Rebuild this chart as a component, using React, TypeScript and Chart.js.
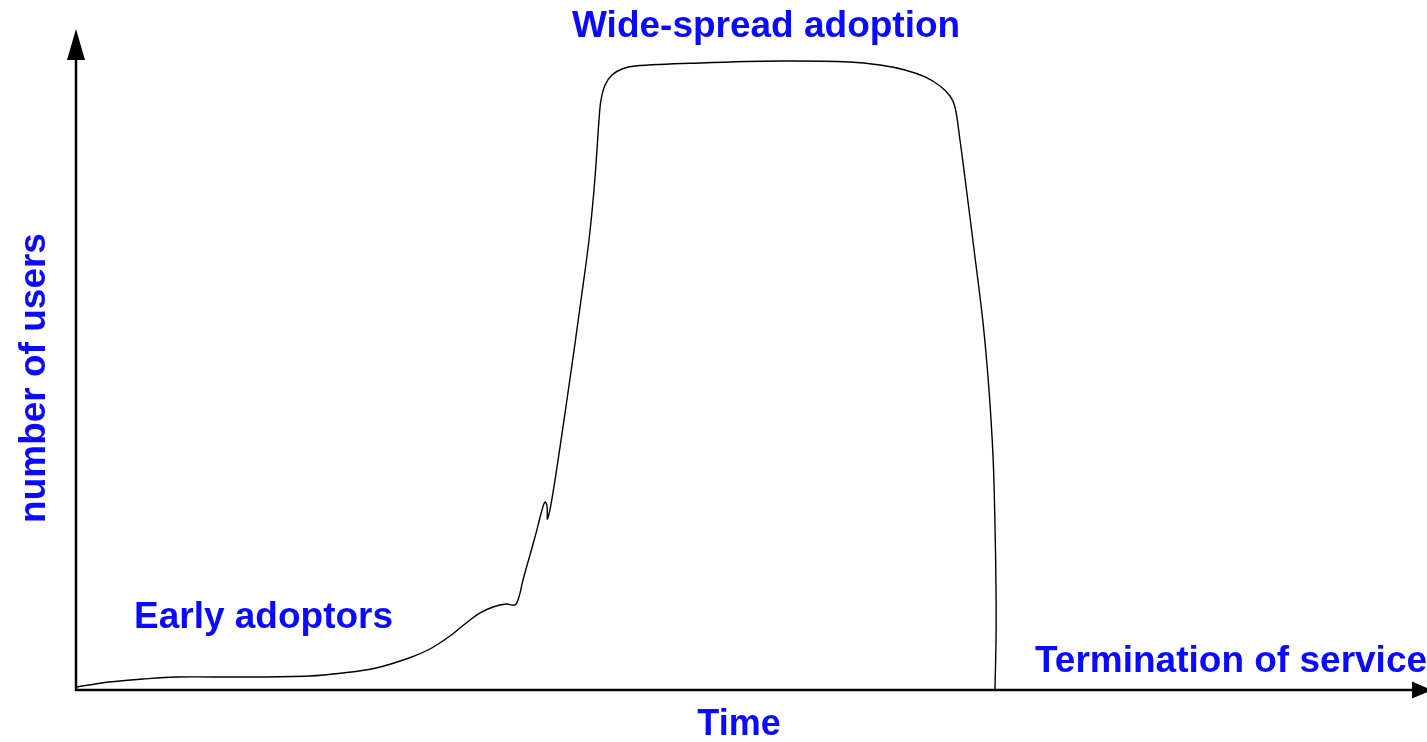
import React, { useEffect, useRef } from "react";
import { Chart, registerables } from "chart.js";

Chart.register(...registerables);

// time (0..100) and number of users (0..100)
const timeValues = [
  0, 2.44, 4.96, 7.41, 12.37, 17.26, 19.78, 22.22, 24.67, 26.22, 27.7, 28.81,
  29.93, 30.89, 31.85, 32.52, 32.81, 33.11, 34.0, 34.52, 34.74, 34.89, 34.93,
  35.33, 36.44, 37.48, 38.0, 38.37, 38.59, 38.74, 38.89, 39.19, 39.7, 40.44,
  41.41, 46.22, 52.15, 57.33, 59.56, 61.41, 62.89, 64.0, 64.74, 65.11, 65.48,
  65.85, 66.59, 67.19, 67.63, 67.93, 68.07, 68.15, 68.15, 68.07,
];
const userValues = [
  0.46, 1.22, 1.68, 1.98, 1.98, 2.14, 2.6, 3.36, 4.89, 6.26, 8.24, 10.08,
  11.76, 12.67, 13.13, 12.98, 14.2, 16.79, 23.36, 27.48, 28.7, 28.09, 26.11,
  30.08, 45.34, 60.61, 68.7, 76.34, 82.44, 87.02, 90.08, 92.37, 93.89, 94.81,
  95.27, 95.73, 96.03, 95.88, 95.42, 94.66, 93.59, 92.21, 90.69, 89.01, 83.97,
  78.17, 66.11, 56.03, 45.8, 35.57, 25.5, 15.27, 7.63, 0,
];

const xAxisLabel = "Time";
const yAxisLabel = "number of users";
const phaseLabels = ["Early adoptors", "Wide-spread adoption", "Termination of service"];

const BLUE = "#0a0aff";
const FONT = '"Liberation Sans", Arial, Helvetica, sans-serif';

const decorPlugin = {
  id: "decor",
  afterDraw(chart: any) {
    const ctx = chart.ctx;
    const xs = chart.scales.x;
    const ys = chart.scales.y;
    const x0 = xs.getPixelForValue(0);
    const y0 = ys.getPixelForValue(0);
    ctx.save();
    // axes
    ctx.strokeStyle = "#000";
    ctx.fillStyle = "#000";
    ctx.lineWidth = 2.5;
    ctx.beginPath();
    ctx.moveTo(x0, y0 + 1);
    ctx.lineTo(x0, 58);
    ctx.moveTo(x0 - 1, y0);
    ctx.lineTo(1414, y0);
    ctx.stroke();
    // arrow heads
    ctx.beginPath();
    ctx.moveTo(x0, 29);
    ctx.lineTo(x0 - 9, 60);
    ctx.lineTo(x0 + 9, 60);
    ctx.closePath();
    ctx.fill();
    ctx.beginPath();
    ctx.moveTo(1432, y0);
    ctx.lineTo(1412, y0 - 8.5);
    ctx.lineTo(1412, y0 + 8.5);
    ctx.closePath();
    ctx.fill();

    // texts
    ctx.fillStyle = BLUE;
    ctx.textBaseline = "alphabetic";
    ctx.textAlign = "left";
    ctx.font = `bold 37px ${FONT}`;
    ctx.fillText(phaseLabels[1], 572, 36.5);
    ctx.fillText(phaseLabels[0], 134, 628);
    ctx.fillText(phaseLabels[2], 1035, 672);
    ctx.font = `bold 36px ${FONT}`;
    ctx.textAlign = "center";
    ctx.fillText(xAxisLabel, 739, 735);
    ctx.save();
    ctx.translate(45, 378);
    ctx.rotate(-Math.PI / 2);
    ctx.font = `bold 37px ${FONT}`;
    ctx.fillText(yAxisLabel, 0, 0);
    ctx.restore();
    ctx.restore();
  },
};

export default function App() {
  const ref = useRef<HTMLCanvasElement | null>(null);
  useEffect(() => {
    document.body.style.margin = "0";
    const canvas = ref.current;
    if (!canvas) return;
    const data = timeValues.map((t, i) => ({ x: t, y: userValues[i] }));
    const chart = new Chart(canvas, {
      type: "line",
      data: {
        datasets: [
          {
            data,
            borderColor: "#000",
            borderWidth: 1.4,
            pointRadius: 0,
            fill: false,
            tension: 0.35,
          },
        ],
      },
      options: {
        animation: false,
        responsive: false,
        devicePixelRatio: 1,
        layout: { padding: { left: 76, right: 1, top: 35, bottom: 52 } },
        plugins: { legend: { display: false }, tooltip: { enabled: false } },
        scales: {
          x: { type: "linear", min: 0, max: 100, display: false },
          y: { type: "linear", min: 0, max: 100, display: false },
        },
      },
      plugins: [decorPlugin],
    });
    return () => chart.destroy();
  }, []);
  return (
    <div style={{ width: 1427, height: 742, background: "#fff" }}>
      <canvas ref={ref} width={1427} height={742} />
    </div>
  );
}
